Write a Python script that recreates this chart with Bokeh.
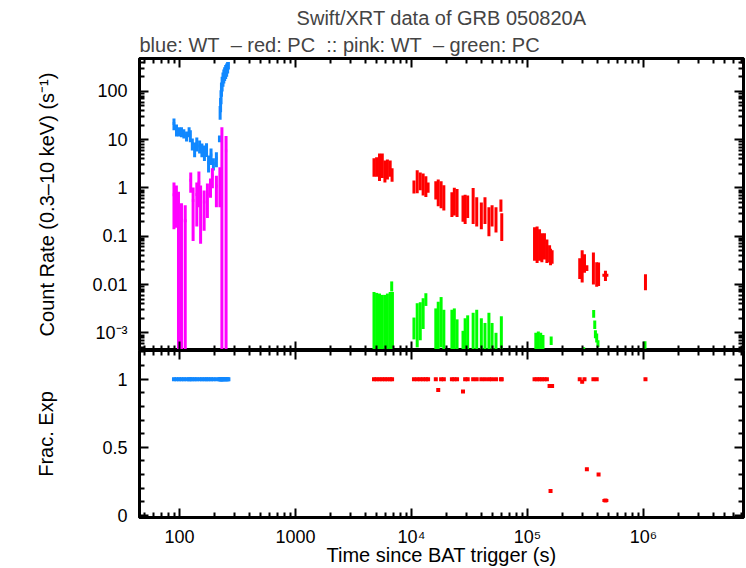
import numpy as np
from bokeh.plotting import figure
from bokeh.models import Range1d, FixedTicker, LogAxis, LinearAxis, Title
from bokeh.layouts import column
from bokeh.embed import file_html
from bokeh.resources import INLINE

FONT = "Liberation Sans"
BLUE = "#1188ff"
RED = "#ff0000"
PINK = "#ff00ff"
GREEN = "#00ff00"

# ---- WT mode (blue): time (s), bin half-width (s), rate (cts/s), 1-sigma error
wt_t = [89.6, 94.2, 99.0, 104, 109, 115, 121, 124, 129, 135,
        141, 149, 156, 164, 171, 178, 187, 196, 208, 221,
        224, 226, 228, 230, 233, 237, 241, 245, 250, 255,
        260, 264]
wt_terr = [2.3, 2.4, 2.5, 2.6, 2.7, 2.9, 2.0, 2.0, 3.0, 3.2,
           3.4, 3.6, 3.8, 4.0, 4.2, 4.4, 4.6, 4.8, 5.0, 2.0,
           1.0, 1.0, 1.0, 1.2, 1.5, 2.0, 2.0, 2.0, 2.5, 2.5,
           2.5, 2.0]
wt_rate = [21.6, 16.2, 14.8, 14.6, 13.5, 12.0, 14.6, 12.2, 8.3, 6.5,
           8.4, 7.4, 6.3, 5.6, 6.4, 3.4, 4.8, 3.2, 4.1, 10.5,
           38, 55, 80, 115, 150, 185, 215, 240, 265, 290,
           320, 345]
wt_err = [6.0, 4.5, 3.2, 3.4, 2.9, 2.8, 3.4, 3.4, 2.3, 2.2,
          2.7, 2.2, 2.0, 2.0, 2.0, 1.3, 1.8, 0.9, 1.4, 1.7,
          12, 18, 26, 38, 50, 60, 70, 75, 85, 90,
          85, 60]
wt_frac = [1.0, 1.0, 1.0, 1.0, 1.0, 1.0, 1.0, 1.0, 1.0, 1.0,
           1.0, 1.0, 1.0, 1.0, 1.0, 1.0, 1.0, 1.0, 1.0, 1.0,
           1.0, 1.0, 1.0, 1.0, 1.0, 1.0, 1.0, 1.0, 1.0, 1.0,
           1.0, 1.0]

# ---- WT mode (pink)
wt2_t = [89.6, 94, 98, 104, 112, 125, 131, 141, 147, 152,
         163, 174, 185, 192, 208, 223, 232, 252]
wt2_terr = [2.2, 2.3, 2.5, 2.8, 3.0, 3.0, 3.2, 3.4, 3.5, 3.6,
            3.9, 4.1, 4.4, 4.5, 4.9, 4.0, 4.5, 5.5]
wt2_rate = [0.72, 0.64, 0.41, 0.23, 0.21, 1.45, 0.55, 0.73, 1.3, 0.6,
            0.51, 0.74, 1.1, 1.77, 1.1, 1.55, 9.0, 5.9]
wt2_err = [0.58, 0.49, 0.42, 0.25, 0.23, 0.65, 0.47, 0.57, 0.9, 0.53,
           0.38, 0.5, 0.47, 0.78, 0.7, 1.15, 9.1, 6.0]

# ---- PC mode (red)
pc_t = [4750, 5000, 5300, 5600, 5900, 6200, 6550, 6800,
        10500, 11200, 11900, 12600, 13300, 13900,
        16200, 17000, 18000, 19000,
        22300, 23400, 24700,
        27800, 29000, 30500,
        34000, 36500,
        40000, 43000,
        46500, 49500,
        53500,
        59000, 60000,
        115000, 121000, 127000, 133000, 140000, 147000, 155000, 158000, 163000,
        282000, 296000, 310000, 325000,
        370000, 395000, 410000,
        470000,
        1040000]
pc_terr = [60, 65, 70, 75, 75, 80, 85, 60,
           140, 150, 160, 170, 170, 150,
           210, 220, 230, 240,
           290, 300, 320,
           360, 380, 400,
           440, 470,
           520, 560,
           600, 650,
           700,
           800, 800,
           1500, 1600, 1700, 1700, 1800, 1900, 2000, 2000, 2100,
           3600, 3800, 4000, 4200,
           4800, 5100, 5300,
           28000,
           13000]
pc_rate = [2.9, 3.0, 3.3, 3.4, 2.5, 2.7, 2.7, 1.95,
           1.1, 1.55, 1.5, 1.35, 1.2, 1.05,
           0.98, 0.96, 0.88, 0.74,
           0.53, 0.64, 0.6,
           0.45, 0.45, 0.47,
           0.59, 0.4,
           0.32, 0.41,
           0.25, 0.3,
           0.26,
           0.45, 0.19,
           0.092, 0.094, 0.085, 0.072, 0.074, 0.057, 0.047, 0.04, 0.039,
           0.024, 0.031, 0.03, 0.022,
           0.028, 0.019, 0.019,
           0.0155,
           0.012]
pc_err = [1.2, 1.3, 1.9, 1.8, 1.2, 1.2, 1.0, 0.6,
          0.33, 0.77, 0.6, 0.65, 0.55, 0.25,
          0.4, 0.54, 0.5, 0.4,
          0.28, 0.37, 0.35,
          0.25, 0.27, 0.23,
          0.41, 0.24,
          0.18, 0.23,
          0.15, 0.14,
          0.14,
          0.13, 0.11,
          0.061, 0.066, 0.054, 0.043, 0.041, 0.029, 0.018, 0.015, 0.012,
          0.011, 0.02, 0.0125, 0.003,
          0.018, 0.01, 0.0097,
          0.0037,
          0.0044]
pc_frac = [1, 1, 1, 1, 1, 1, 1, 1,
           1, 1, 1, 1, 1, 1,
           1, 0.92, 1, 1,
           1, 1, 1,
           0.91, 1, 1,
           1, 1,
           1, 1,
           1, 1,
           1,
           1, 1,
           1, 1, 1, 1, 1, 1, 0.95, 0.18, 0.95,
           1, 0.98, 1, 0.34,
           1, 1, 0.30,
           0.11,
           1]

# ---- PC mode (green)
pc2_t = [4750, 5000, 5300, 5600, 5900, 6200, 6550, 6750, 6850,
         10500, 11200, 11900, 12600, 13300,
         16200, 17000, 18000, 19000,
         22300, 23400, 24700,
         27800, 29000, 30500,
         34000, 36500,
         40000, 43000,
         46500, 49500,
         53500,
         59500,
         118000, 124000, 130000, 136000, 160000,
         305000,
         372000, 380000, 385000, 395000, 405000,
         1030000]
pc2_terr = [60, 65, 70, 75, 75, 80, 85, 60, 60,
            140, 150, 160, 170, 170,
            210, 220, 230, 240,
            290, 300, 320,
            360, 380, 400,
            440, 470,
            520, 560,
            600, 650,
            700,
            800,
            1500, 1600, 1700, 1700, 2000,
            4000,
            4800, 4900, 5000, 5100, 5300,
            13000]
pc2_rate = [0.0035, 0.0033, 0.0032, 0.0030, 0.0030, 0.0032, 0.0035, 0.0094, 0.0035,
            0.0014, 0.0023, 0.0025, 0.0032, 0.0051,
            0.0016, 0.0022, 0.0030, 0.0015,
            0.0015, 0.0016, 0.00095,
            0.00055, 0.0010, 0.00115,
            0.0013, 0.0015,
            0.0010, 0.0008,
            0.0013, 0.0008,
            0.0005,
            0.0011,
            0.0005, 0.00053, 0.0005, 0.00045, 0.0007,
            0.0003,
            0.0025, 0.0015, 0.00095, 0.0008, 0.0006,
            0.00057]
pc2_err = [0.0035, 0.0034, 0.0033, 0.0031, 0.0031, 0.0033, 0.0035, 0.0022, 0.0035,
           0.00067, 0.0018, 0.0018, 0.0020, 0.0015,
           0.0016, 0.0022, 0.0025, 0.0015,
           0.0015, 0.0016, 0.00095,
           0.00055, 0.0010, 0.00115,
           0.0013, 0.0015,
           0.0010, 0.0008,
           0.0013, 0.0008,
           0.0005,
           0.0011,
           0.0005, 0.00053, 0.0005, 0.00045, 0.00014,
           0.0002,
           0.00045, 0.0003, 0.00018, 0.00017, 0.0001,
           0.0001]

# ---- axis ticks and labels
x_major = [100, 1e3, 1e4, 1e5, 1e6]
x_labels = {100.0: "100", 1000.0: "1000", 10000.0: "10\u2074",
            100000.0: "10\u2075", 1000000.0: "10\u2076"}
y_major = [1e-3, 1e-2, 0.1, 1, 10, 100]
y_labels = {0.001: "10\u207b\u00b3", 0.01: "0.01", 0.1: "0.1",
            1.0: "1", 10.0: "10", 100.0: "100"}
f_major = [0, 0.5, 1]
f_labels = {0.0: "0", 0.5: "0.5", 1.0: "1"}

X_RANGE = (45.2, 7.28e6)
Y_RANGE = (4.3e-4, 480)
F_RANGE = (-0.0145, 1.21)
FLOOR = 1e-7   # lower end for error bars reaching zero on the log axis
LABEL_SIZE = "20px"


def log_minor(lo, hi):
    return [m * 10.0 ** k for k in range(lo, hi + 1) for m in range(2, 10)]


def x_ticker():
    return FixedTicker(ticks=x_major, minor_ticks=log_minor(1, 6))


def y_ticker():
    return FixedTicker(ticks=y_major, minor_ticks=log_minor(-4, 2))


def f_ticker():
    return FixedTicker(ticks=f_major,
                       minor_ticks=[0.1, 0.2, 0.3, 0.4, 0.6, 0.7, 0.8, 0.9, 1.1, 1.2])


def style_axis(ax, labels=True):
    ax.axis_line_width = 3
    ax.axis_line_color = "black"
    ax.major_tick_in = 9
    ax.major_tick_out = 0
    ax.minor_tick_in = 5
    ax.minor_tick_out = 0
    ax.major_tick_line_width = 2
    ax.minor_tick_line_width = 2
    ax.major_label_text_font = FONT
    ax.major_label_text_font_size = "18px"
    ax.major_label_text_color = "black"
    ax.axis_label_text_font = FONT
    ax.axis_label_text_font_size = LABEL_SIZE
    ax.axis_label_text_font_style = "normal"
    ax.axis_label_text_color = "black"
    if not labels:
        # mirrored tick marks only
        ax.major_label_text_font_size = "1px"
        ax.major_label_text_alpha = 0
        ax.major_label_standoff = 0


def error_bars(p, t, terr, v, e, color, lw=3):
    t = np.asarray(t, float)
    terr = np.asarray(terr, float)
    v = np.asarray(v, float)
    e = np.asarray(e, float)
    lo = np.clip(v - e, FLOOR, None)
    p.segment(x0=t, y0=lo, x1=t, y1=v + e, line_color=color, line_width=lw)
    p.segment(x0=t - terr, y0=v, x1=t + terr, y1=v, line_color=color, line_width=lw)


def base_style(p):
    p.xgrid.visible = False
    p.ygrid.visible = False
    p.outline_line_color = "black"
    p.outline_line_width = 3
    p.background_fill_color = "white"
    p.border_fill_color = "white"


# ---- upper panel: count rate
top = figure(width=746, height=350, x_axis_type="log", y_axis_type="log",
             x_range=Range1d(*X_RANGE), y_range=Range1d(*Y_RANGE),
             output_backend="svg", toolbar_location=None,
             min_border_left=139, min_border_right=3,
             min_border_top=58, min_border_bottom=0)
base_style(top)
top.xaxis.ticker = x_ticker()
top.yaxis.ticker = y_ticker()
top.yaxis.major_label_overrides = y_labels
style_axis(top.xaxis[0], labels=False)
style_axis(top.yaxis[0])
top.yaxis.axis_label = "Count Rate (0.3\u201310 keV) (s\u207b\u00b9)"
top.yaxis.major_label_standoff = 12
top.yaxis.axis_label_standoff = 31

ax_r = LogAxis(ticker=y_ticker())
style_axis(ax_r, labels=False)
top.add_layout(ax_r, "right")
ax_t = LogAxis(ticker=x_ticker())
style_axis(ax_t, labels=False)
top.add_layout(ax_t, "above")

top.title.text = "Swift/XRT data of GRB 050820A"
top.title.align = "center"
top.title.text_font = FONT
top.title.text_font_size = LABEL_SIZE
top.title.text_font_style = "normal"
top.title.standoff = 2
sub = Title(text="blue: WT\u00a0 \u2013 red: PC\u00a0 :: pink: WT\u00a0 \u2013 green: PC",
            align="left", text_font=FONT, text_font_size=LABEL_SIZE,
            text_font_style="normal", standoff=5)
top.add_layout(sub, "above")

error_bars(top, wt_t, wt_terr, wt_rate, wt_err, BLUE)
error_bars(top, pc_t, pc_terr, pc_rate, pc_err, RED)
error_bars(top, wt2_t, wt2_terr, wt2_rate, wt2_err, PINK)
error_bars(top, pc2_t, pc2_terr, pc2_rate, pc2_err, GREEN)

# ---- lower panel: fractional exposure
bot = figure(width=746, height=218, x_axis_type="log",
             x_range=top.x_range, y_range=Range1d(*F_RANGE),
             output_backend="svg", toolbar_location=None,
             min_border_left=139, min_border_right=3,
             min_border_top=0, min_border_bottom=49)
base_style(bot)
bot.xaxis.ticker = x_ticker()
bot.xaxis.major_label_overrides = x_labels
bot.yaxis.ticker = f_ticker()
bot.yaxis.major_label_overrides = f_labels
style_axis(bot.xaxis[0])
style_axis(bot.yaxis[0])
bot.xaxis.axis_label = "Time since BAT trigger (s)"
bot.xaxis.major_label_standoff = 9
bot.xaxis.axis_label_standoff = -6
bot.yaxis.axis_label = "Frac. Exp"
bot.yaxis.major_label_standoff = 12
bot.yaxis.axis_label_standoff = 42

bx_r = LinearAxis(ticker=f_ticker())
style_axis(bx_r, labels=False)
bot.add_layout(bx_r, "right")
bx_t = LogAxis(ticker=x_ticker())
style_axis(bx_t, labels=False)
bot.add_layout(bx_t, "above")


def frac_marks(p, t, terr, f, color):
    t = np.asarray(t, float)
    terr = np.asarray(terr, float)
    f = np.asarray(f, float)
    p.segment(x0=t - terr, y0=f, x1=t + terr, y1=f, line_color=color, line_width=3)
    p.scatter(x=t, y=f, marker="square", size=4, fill_color=color, line_color=None)


frac_marks(bot, wt_t, wt_terr, wt_frac, BLUE)
frac_marks(bot, pc_t, pc_terr, pc_frac, RED)

layout = column(top, bot, spacing=0)
with open("out.html", "w") as fh:
    fh.write(file_html(layout, INLINE))
